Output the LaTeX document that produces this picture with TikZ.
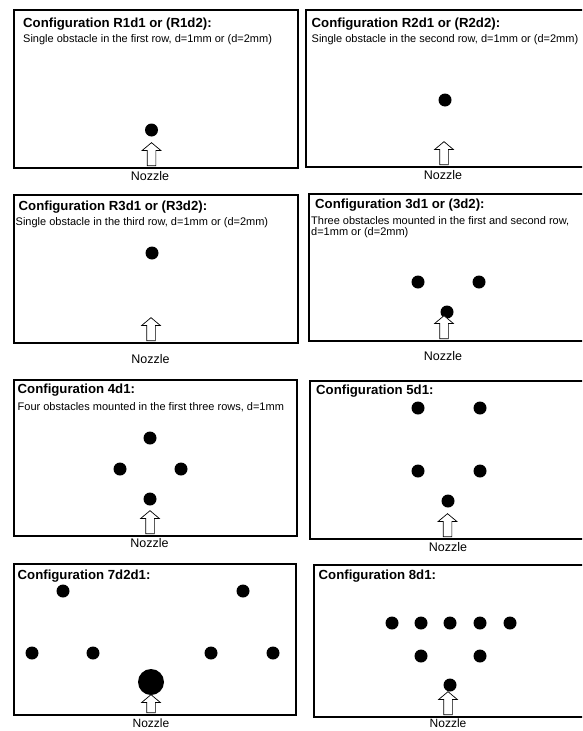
\documentclass[tikz,border=0pt]{standalone}
\usepackage{fontspec}
\setmainfont{Liberation Sans}
\usepackage{tikz}
\usetikzlibrary{shapes.arrows}
\tikzset{
    panel/.style={
        rectangle, draw=black, line width=1.8pt,
        inner sep=0pt, anchor=north west
    },
    cfgtitle/.style={
        anchor=base west, inner sep=0pt,
        font=\fontsize{13.2}{15}\selectfont\bfseries
    },
    cfgtext/.style={
        anchor=base west, inner sep=0pt,
        font=\fontsize{11}{13}\selectfont
    },
    obstacle/.style={
        circle, fill=black, inner sep=0pt, minimum size=13pt
    },
    bigobstacle/.style={
        obstacle, minimum size=26pt
    },
    jet/.style={
        single arrow, draw=black, fill=white, line width=0.7pt,
        rotate=90, anchor=tail, inner sep=4pt,
        minimum height=23pt,
        single arrow head extend=5pt, single arrow tip angle=100
    },
    nozzlelabel/.style={
        anchor=base, inner sep=0pt,
        font=\fontsize{12.5}{14}\selectfont
    }
}

\begin{document}
\begin{tikzpicture}[x=1pt, y=-1pt]

\useasboundingbox (0,0) rectangle (582,731);
\clip (0,0) rectangle (582,731);

% R1d1 / R1d2
\node[panel, minimum width=284, minimum height=158] (p1) at (13,9) {};
\node[cfgtitle] (t1) at (23,27) {Configuration R1d1 or (R1d2):};
\node[cfgtext] (s1) at (23,42.5) {Single obstacle in the first row, d=1mm or (d=2mm)};
\node[obstacle] (o1) at (151.5,130) {};
\node[jet] (j1) at (151.5,166) {};
\node[nozzlelabel] (n1) at (150,180) {Nozzle};

% R2d1 / R2d2
\node[panel, minimum width=290, minimum height=157] (p2) at (305,9) {};
\node[cfgtitle] (t2) at (311.5,27.3) {Configuration R2d1 or (R2d2):};
\node[cfgtext] (s2) at (311.5,42.3) {Single obstacle in the second row, d=1mm or (d=2mm)};
\node[obstacle] (o2) at (445,100) {};
\node[jet] (j2) at (444,165) {};
\node[nozzlelabel] (n2) at (443,179) {Nozzle};

% R3d1 / R3d2
\node[panel, minimum width=284, minimum height=148] (p3) at (13,194) {};
\node[cfgtitle] (t3) at (18.5,210) {Configuration R3d1 or (R3d2):};
\node[cfgtext] (s3) at (15.5,225) {Single obstacle in the third row, d=1mm or (d=2mm)};
\node[obstacle] (o3) at (152,253) {};
\node[jet] (j3) at (151,341) {};
\node[nozzlelabel] (n3) at (150.5,363) {Nozzle};

% 3d1 / 3d2
\node[panel, minimum width=290, minimum height=147] (p4) at (308,193) {};
\node[cfgtitle] (t4) at (315,208.3) {Configuration 3d1 or (3d2):};
\node[cfgtext] (s4a) at (311,224.3) {Three obstacles mounted in the first and second row,};
\node[cfgtext] (s4b) at (311,235.5) {d=1mm or (d=2mm)};
\node[obstacle] (o4a) at (418,282) {};
\node[obstacle] (o4b) at (479,282) {};
\node[obstacle] (o4c) at (447,312) {};
\node[jet] (j4) at (444,339) {};
\node[nozzlelabel] (n4) at (443,360) {Nozzle};

% 4d1
\node[panel, minimum width=283, minimum height=156] (p5) at (13,379) {};
\node[cfgtitle] (t5) at (17.5,393.3) {Configuration 4d1:};
\node[cfgtext] (s5) at (17.5,410) {Four obstacles mounted in the first three rows, d=1mm};
\node[obstacle] (o5a) at (150,438) {};
\node[obstacle] (o5b) at (120,469) {};
\node[obstacle] (o5c) at (181,469) {};
\node[obstacle] (o5d) at (150,499) {};
\node[jet] (j5) at (150,534) {};
\node[nozzlelabel] (n5) at (149.5,547.7) {Nozzle};

% 5d1
\node[panel, minimum width=290, minimum height=158] (p6) at (309,380) {};
\node[cfgtitle] (t6) at (316,394) {Configuration 5d1:};
\node[obstacle] (o6a) at (418,408) {};
\node[obstacle] (o6b) at (480,408) {};
\node[obstacle] (o6c) at (418,471) {};
\node[obstacle] (o6d) at (480,471) {};
\node[obstacle] (o6e) at (448,501) {};
\node[jet] (j6) at (447.5,537) {};
\node[nozzlelabel] (n6) at (448,551.7) {Nozzle};

% 7d2d1
\node[panel, minimum width=282, minimum height=151] (p7) at (13,563) {};
\node[cfgtitle] (t7) at (17.5,579.3) {Configuration 7d2d1:};
\node[obstacle] (o7a) at (63,591) {};
\node[obstacle] (o7b) at (243,591) {};
\node[obstacle] (o7c) at (32,653) {};
\node[obstacle] (o7d) at (93,653) {};
\node[obstacle] (o7e) at (211,653) {};
\node[obstacle] (o7f) at (273,653) {};
\node[bigobstacle] (o7g) at (151,682) {};
\node[jet, minimum height=18pt] (j7) at (151,713) {};
\node[nozzlelabel, font=\fontsize{12}{14}\selectfont] (n7) at (151,727) {Nozzle};

% 8d1
\node[panel, minimum width=290, minimum height=152] (p8) at (313,564) {};
\node[cfgtitle] (t8) at (318.5,579.3) {Configuration 8d1:};
\node[obstacle] (o8a) at (392,623) {};
\node[obstacle] (o8b) at (421,623) {};
\node[obstacle] (o8c) at (450,623) {};
\node[obstacle] (o8d) at (480,623) {};
\node[obstacle] (o8e) at (510,623) {};
\node[obstacle] (o8f) at (421,656) {};
\node[obstacle] (o8g) at (480,656) {};
\node[obstacle] (o8h) at (450,685) {};
\node[jet] (j8) at (448,715) {};
\node[nozzlelabel, font=\fontsize{12}{14}\selectfont] (n8) at (448,727) {Nozzle};

\end{tikzpicture}
\end{document}
